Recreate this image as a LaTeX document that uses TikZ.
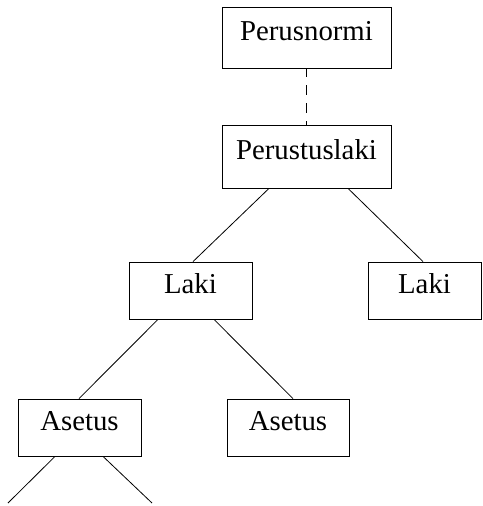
\documentclass[tikz,border=0pt]{standalone}
\usepackage{fontspec}
\setmainfont{Liberation Serif}
\begin{document}
\begin{tikzpicture}[x=1pt,y=-1pt,
  box/.style={draw, line width=0.8pt, rectangle, inner sep=0pt,
    text height=9pt, text depth=4pt,
    font=\fontsize{28.8}{34}\selectfont},
  conn/.style={line width=0.8pt}]
\useasboundingbox (0,0) rectangle (482,506);
\node[box, minimum width=169pt, minimum height=61pt] (pn) at (306.5,37.5) {Perusnormi};
\node[box, minimum width=169pt, minimum height=63pt] (pt) at (306.5,156.5) {Perustuslaki};
\node[box, minimum width=123pt, minimum height=57pt] (lakiL) at (190.5,290.5) {Laki};
\node[box, minimum width=113pt, minimum height=57pt] (lakiR) at (424.5,290.5) {Laki};
\node[box, minimum width=123pt, minimum height=57pt] (asL) at (79.5,427.5) {Asetus};
\node[box, minimum width=122pt, minimum height=57pt] (asR) at (288,427.5) {Asetus};
\coordinate (endL) at (8,503);
\coordinate (endR) at (152,503);
\draw[conn, dash pattern=on 10pt off 8pt, dash phase=1pt] (pn.south) -- (pt.north);
\draw[conn] ([xshift=-37.5pt]pt.south) -- ([xshift=2.5pt]lakiL.north);
\draw[conn] ([xshift=41.5pt]pt.south) -- ([xshift=-1.5pt]lakiR.north);
\draw[conn] ([xshift=-32.5pt]lakiL.south) -- ([xshift=-0.5pt]asL.north);
\draw[conn] ([xshift=23.5pt]lakiL.south) -- ([xshift=5pt]asR.north);
\draw[conn] ([xshift=-24.5pt]asL.south) -- (endL);
\draw[conn] ([xshift=23.5pt]asL.south) -- (endR);
\end{tikzpicture}
\end{document}
